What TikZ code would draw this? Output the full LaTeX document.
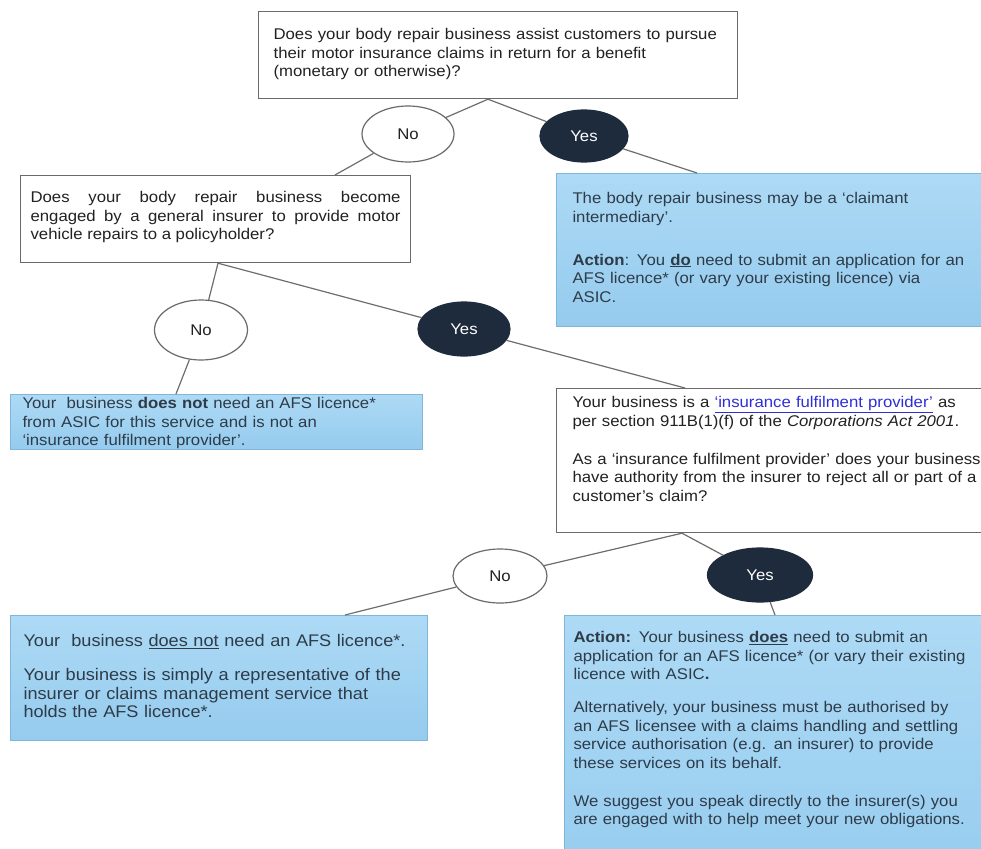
\documentclass[tikz,border=0pt]{standalone}
\usepackage{fontspec}
\setmainfont{Liberation Sans}[FakeStretch=1.08]
\usetikzlibrary{positioning,shapes.geometric}
\definecolor{Navy}{HTML}{1D2B3C}
\definecolor{SkyTop}{HTML}{ADDAF5}
\definecolor{SkyBottom}{HTML}{95CBEE}
\definecolor{SkyEdge}{HTML}{7FB6D9}
\definecolor{BoxEdge}{HTML}{6A6A6A}
\definecolor{WireGray}{HTML}{6E6E6E}
\definecolor{BodyText}{HTML}{222222}
\definecolor{SkyText}{HTML}{2E3B48}
\definecolor{LinkBlue}{HTML}{2F2FD8}

\begin{document}
\begin{tikzpicture}[x=1pt,y=-1pt,
    qbox/.style={draw=BoxEdge,fill=white,line width=1.2pt,anchor=north west,
      inner ysep=0pt,align=left,text=BodyText,font=\fontsize{15.5}{18.5}\selectfont},
    abox/.style={draw=SkyEdge,top color=SkyTop,bottom color=SkyBottom,line width=1pt,
      anchor=north west,inner ysep=0pt,align=left,text=SkyText,
      font=\fontsize{15.5}{18.5}\selectfont},
    nobubble/.style={ellipse,draw=BoxEdge,fill=white,line width=1.2pt,inner sep=0pt,
      text=BodyText,font=\fontsize{15.5}{18.5}\selectfont},
    yesbubble/.style={ellipse,draw=Navy,fill=Navy,line width=1.2pt,inner sep=0pt,
      text=white,font=\fontsize{15.5}{18.5}\selectfont},
    wire/.style={draw=WireGray,line width=1.2pt}]
  \useasboundingbox (0,0) rectangle (981,848);
  \clip (0,0) rectangle (981,848);
  \fill[white] (0,0) rectangle (981,848);

  % first question
  \node[qbox,inner xsep=15pt,text width=449pt,text height=28pt,text depth=59pt]
    (q1) at (258,11) {Does your body repair business assist customers to pursue\\
    their motor insurance claims in return for a benefit\\
    (monetary or otherwise)?};
  \node[nobubble,minimum width=92pt,minimum height=56pt] (no1) at (408,134) {No};
  \node[yesbubble,minimum width=88pt,minimum height=52pt] (yes1) at (584,136) {Yes};

  \node[abox,inner xsep=16pt,text width=440pt,text height=30pt,text depth=123pt]
    (a1) at (556,173) {The body repair business may be a `claimant\\
    intermediary'.\\[24.5pt]
    \textbf{Action}: You \textbf{\underline{do}} need to submit an application for an\\
    AFS licence* (or vary your existing licence) via\\
    ASIC.};

  % second question
  \node[qbox,align=justify,inner xsep=10pt,text width=370pt,text height=27pt,text depth=60pt]
    (q2) at (20,175) {Does your body repair business become\linebreak
    engaged by a general insurer to provide motor\linebreak
    vehicle repairs to a policyholder?};
  \node[nobubble,minimum width=93pt,minimum height=60pt] (no2) at (201,330) {No};
  \node[yesbubble,minimum width=92pt,minimum height=54pt] (yes2) at (464,329) {Yes};

  \node[abox,inner xsep=12pt,text width=388pt,text height=14pt,text depth=41pt]
    (a2) at (10,394) {Your~~business \textbf{does not} need an AFS licence*\\
    from ASIC for this service and is not an\\
    `insurance fulfilment provider'.};

  % third question
  \node[qbox,inner xsep=16pt,text width=440pt,text height=19pt,text depth=125pt]
    (q3) at (556,388) {Your business is a \textcolor{LinkBlue}{\underline{`insurance fulfilment provider'}} as\\
    per section 911B(1)(f) of the \textit{Corporations Act 2001}.\\[19.5pt]
    As a `insurance fulfilment provider' does your business\\
    have authority from the insurer to reject all or part of a\\
    customer's claim?};
  \node[nobubble,minimum width=94pt,minimum height=54pt] (no3) at (500,576) {No};
  \node[yesbubble,minimum width=105pt,minimum height=54pt] (yes3) at (760,575) {Yes};

  \node[abox,inner xsep=13pt,text width=391pt,text height=31pt,text depth=94pt,
    font=\fontsize{16.8}{18.5}\selectfont]
    (a3) at (10,615) {Your~~business \underline{does not} need an AFS licence*.\\[15.5pt]
    Your business is simply a representative of the\\
    insurer or claims management service that\\
    holds the AFS licence*.};

  \node[abox,inner xsep=9pt,text width=430pt,text height=27pt,text depth=260pt]
    (a4) at (564,615) {\textbf{Action:} Your business \textbf{\underline{does}} need to submit an\\
    application for an AFS licence* (or vary their existing\\
    licence with ASIC\textbf{.}\\[14.5pt]
    Alternatively, your business must be authorised by\\
    an AFS licensee with a claims handling and settling\\
    service authorisation (e.g. an insurer) to provide\\
    these services on its behalf.\\[19.5pt]
    We suggest you speak directly to the insurer(s) you\\
    are engaged with to help meet your new obligations.};

  % connectors
  \draw[wire] ([xshift=230pt]q1.south west) -- (no1);
  \draw[wire] ([xshift=230pt]q1.south west) -- (yes1);
  \draw[wire] (yes1) -- ([xshift=141pt]a1.north west);
  \draw[wire] (no1) -- ([xshift=315pt]q2.north west);
  \draw[wire] ([xshift=198pt]q2.south west) -- (no2);
  \draw[wire] ([xshift=198pt]q2.south west) -- (yes2);
  \draw[wire] (no2) -- ([xshift=166pt]a2.north west);
  \draw[wire] (yes2) -- ([xshift=129pt]q3.north west);
  \draw[wire] ([xshift=126pt]q3.south west) -- (no3);
  \draw[wire] ([xshift=126pt]q3.south west) -- (yes3);
  \draw[wire] (no3) -- ([xshift=335pt]a3.north west);
  \draw[wire] (yes3) -- ([xshift=211pt]a4.north west);
\end{tikzpicture}
\end{document}
